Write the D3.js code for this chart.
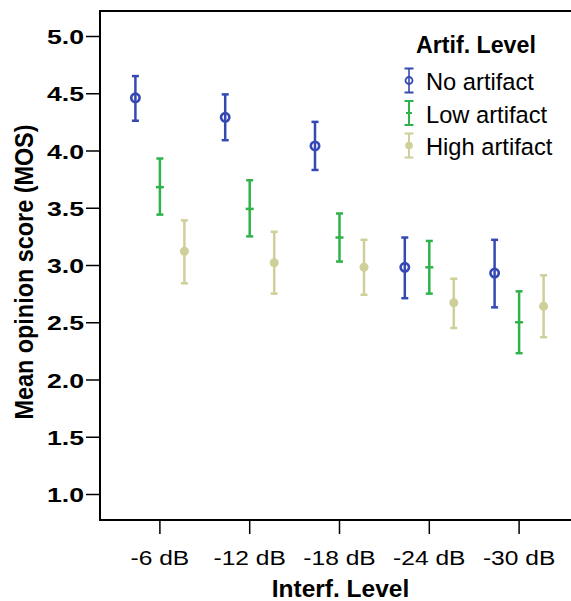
<!DOCTYPE html>
<html>
<head>
<meta charset="utf-8">
<script src="https://cdnjs.cloudflare.com/ajax/libs/d3/7.8.5/d3.min.js"></script>
<style>
  body { margin: 0; background: #fff; }
  text { font-family: "Liberation Sans", Arial, sans-serif; fill: #000; }
</style>
</head>
<body>
<div id="chart"></div>
<script>
const levels = ["-6 dB", "-12 dB", "-18 dB", "-24 dB", "-30 dB"];
const groups = ["No artifact", "Low artifact", "High artifact"];
const yTicks = [1.0, 1.5, 2.0, 2.5, 3.0, 3.5, 4.0, 4.5, 5.0];

// mean, lower, upper per interference level
const noMean = [4.46, 4.29, 4.04, 2.98, 2.93];
const noLow  = [4.26, 4.09, 3.83, 2.71, 2.63];
const noHigh = [4.65, 4.49, 4.25, 3.24, 3.22];

const lowMean = [3.68, 3.49, 3.24, 2.98, 2.50];
const lowLow  = [3.44, 3.25, 3.03, 2.75, 2.23];
const lowHigh = [3.93, 3.74, 3.45, 3.21, 2.77];

const highMean = [3.12, 3.02, 2.98, 2.67, 2.64];
const highLow  = [2.84, 2.75, 2.74, 2.45, 2.37];
const highHigh = [3.39, 3.29, 3.22, 2.88, 2.91];

const colors = ["#3549b3", "#2fb24b", "#cfcf99"];

const svgWidth = 571, svgHeight = 601;
const frameLeft = 100, frameTop = 11, frameBottom = 520;

let svg = d3.select("#chart").append("svg")
    .attr("width", svgWidth)
    .attr("height", svgHeight);

let xScale = d3.scaleBand()
    .domain(levels)
    .range([115, 564]);

let offset = d3.scalePoint()
    .domain(groups)
    .range([-24.5, 24.5]);

let yScale = d3.scaleLinear()
    .domain([1, 5])
    .range([494, 36]);

// frame
svg.append("path")
    .attr("d", `M${svgWidth},${frameTop}H${frameLeft}V${frameBottom}H${svgWidth}`)
    .attr("fill", "none")
    .attr("stroke", "#000")
    .attr("stroke-width", 2);

// y axis
let yAxis = svg.append("g")
    .attr("transform", `translate(${frameLeft},0)`)
    .call(d3.axisLeft(yScale).tickValues(yTicks).tickFormat(d3.format(".1f")).tickSize(14));
yAxis.select(".domain").remove();
yAxis.selectAll("line").attr("stroke", "#000").attr("stroke-width", 1.5);
yAxis.selectAll("text")
    .attr("x", null)
    .attr("dy", null)
    .attr("transform", "translate(-16,7.5) scale(1.27,1)")
    .attr("font-size", 21)
    .attr("font-weight", "bold")
    .attr("font-family", "Liberation Sans, Arial, sans-serif")
    .attr("fill", "#000");

// x axis
let xAxis = svg.append("g")
    .attr("transform", `translate(0,${frameBottom})`)
    .call(d3.axisBottom(xScale).tickSize(14));
xAxis.select(".domain").remove();
xAxis.selectAll("line").attr("stroke", "#000").attr("stroke-width", 1.5);
xAxis.selectAll("text")
    .attr("y", null)
    .attr("dy", null)
    .attr("transform", "translate(0,45) scale(1.17,1)")
    .attr("font-size", 21)
    .attr("font-family", "Liberation Sans, Arial, sans-serif")
    .attr("fill", "#000");

// axis titles
svg.append("text")
    .attr("x", 340.5)
    .attr("y", 597)
    .attr("text-anchor", "middle")
    .attr("font-size", 24.5)
    .attr("font-weight", "bold")
    .text("Interf. Level");

svg.append("text")
    .attr("transform", `translate(33,272) rotate(-90)`)
    .attr("text-anchor", "middle")
    .attr("font-size", 25)
    .attr("font-weight", "bold")
    .attr("textLength", 295)
    .attr("lengthAdjust", "spacingAndGlyphs")
    .text("Mean opinion score (MOS)");

// build rows
let series = [
    { name: groups[0], mean: noMean, lo: noLow, hi: noHigh },
    { name: groups[1], mean: lowMean, lo: lowLow, hi: lowHigh },
    { name: groups[2], mean: highMean, lo: highLow, hi: highHigh }
];
let rows = [];
series.forEach((s, si) => {
    levels.forEach((lv, i) => {
        rows.push({ level: lv, group: s.name, gi: si, mean: s.mean[i], lo: s.lo[i], hi: s.hi[i] });
    });
});

function drawMarker(g, gi, color) {
    if (gi === 0) {
        g.append("circle").attr("r", 4.2).attr("fill", "none")
            .attr("stroke", color).attr("stroke-width", 2.6);
    } else if (gi === 1) {
        g.append("line").attr("x1", -4).attr("x2", 4)
            .attr("stroke", color).attr("stroke-width", 2.5);
    } else {
        g.append("circle").attr("r", 4.5).attr("fill", color);
    }
}

let cap = 3.5;
let bars = svg.append("g").selectAll("g")
    .data(rows)
    .join("g")
    .attr("transform", d => `translate(${xScale(d.level) + xScale.bandwidth() / 2 + offset(d.group)},0)`);

bars.each(function (d) {
    let g = d3.select(this);
    let c = colors[d.gi];
    g.append("line").attr("y1", yScale(d.lo)).attr("y2", yScale(d.hi))
        .attr("stroke", c).attr("stroke-width", 2.5);
    g.append("line").attr("x1", -cap).attr("x2", cap)
        .attr("y1", yScale(d.hi)).attr("y2", yScale(d.hi))
        .attr("stroke", c).attr("stroke-width", 2.5);
    g.append("line").attr("x1", -cap).attr("x2", cap)
        .attr("y1", yScale(d.lo)).attr("y2", yScale(d.lo))
        .attr("stroke", c).attr("stroke-width", 2.5);
    let m = g.append("g").attr("transform", `translate(0,${yScale(d.mean)})`);
    drawMarker(m, d.gi, c);
});

// legend
let legend = svg.append("g").attr("transform", "translate(409,0)");
legend.append("text")
    .attr("x", 7)
    .attr("y", 53)
    .attr("font-size", 23.2)
    .attr("font-weight", "bold")
    .text("Artif. Level");

let items = legend.selectAll("g.item")
    .data(groups)
    .join("g")
    .attr("class", "item")
    .attr("transform", (d, i) => `translate(0,${80.5 + i * 32.5})`);

items.each(function (d, i) {
    let g = d3.select(this);
    let c = colors[i];
    g.append("line").attr("y1", -12).attr("y2", 12).attr("stroke", c).attr("stroke-width", 2).attr("opacity", i === 0 ? 0.8 : 1);
    g.append("line").attr("x1", -4.5).attr("x2", 4.5).attr("y1", -12).attr("y2", -12).attr("stroke", c).attr("stroke-width", 2);
    g.append("line").attr("x1", -4.5).attr("x2", 4.5).attr("y1", 12).attr("y2", 12).attr("stroke", c).attr("stroke-width", 2);
    if (i === 0) g.append("circle").attr("r", 3.5).attr("fill", "none").attr("stroke", c).attr("stroke-width", 1.8);
    else if (i === 1) g.append("line").attr("x1", -3).attr("x2", 3).attr("stroke", c).attr("stroke-width", 2);
    else g.append("circle").attr("r", 3.8).attr("fill", c);
    g.append("text")
        .attr("x", 17)
        .attr("y", 9.5)
        .attr("font-size", 23.7)
        .text(d);
});
</script>
</body>
</html>
